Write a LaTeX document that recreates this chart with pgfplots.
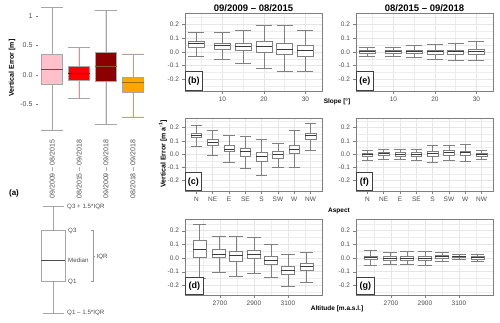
\documentclass[border=0pt]{standalone}
\usepackage{pgfplots}
\pgfplotsset{compat=1.18}
\usepgfplotslibrary{statistics}
\usepackage{fontspec}
\setmainfont{Liberation Sans}
\definecolor{cPink}{HTML}{FFC0CB}
\definecolor{cRed}{HTML}{FF0000}
\definecolor{cDark}{HTML}{8B0000}
\definecolor{cOrng}{HTML}{FFA500}
\definecolor{cFrame}{HTML}{7F7F7F}
\definecolor{cGrid}{HTML}{E6E6E6}
\definecolor{cTxt}{HTML}{4D4D4D}
\definecolor{cBox}{HTML}{808080}
\definecolor{cMed}{HTML}{3A3A3A}
\newcommand{\fs}[1]{\fontsize{#1}{#1}\selectfont}
\pgfplotsset{
  boxplot/draw direction=y,
  panel/.style={
    scale only axis, width=137pt, clip=false,
    axis line style={cFrame, line width=0.6pt},
    tick style={cFrame, line width=0.5pt},
    tick align=outside, major tick length=2.6pt, minor tick length=0pt,
    xtick pos=bottom, ytick pos=left,
    ytick={-0.2,-0.1,0,0.1,0.2}, yticklabels={-0.2,-0.1,0.0,0.1,0.2},
    minor ytick={-0.25,-0.15,-0.05,0.05,0.15,0.25},
    grid=both,
    major grid style={cGrid, line width=0.55pt},
    minor grid style={cGrid!70, line width=0.3pt},
    tick label style={font=\fs{6.5}, text=cTxt}},
  slope/.style={xmin=1, xmax=34, xtick={10,20,30}, xticklabels={10,20,30},
    minor xtick={5,15,25}, boxplot/box extend=3.9, boxplot/whisker extend=3.9},
  aspect/.style={xmin=0.3, xmax=8.7, xtick={1,2,3,4,5,6,7,8},
    xticklabels={N,NE,E,SE,S,SW,W,NW}, boxplot/box extend=0.64, boxplot/whisker extend=0.68},
  % altitude in hundreds of metres
  alti/.style={xmin=24.95, xmax=33.0, xtick={27,29,31}, xticklabels={2700,2900,3100},
    minor xtick={26,28,30,32}, boxplot/box extend=0.78, boxplot/whisker extend=0.78},
  bx/.style={draw=cBox, fill=white, line width=0.5pt, boxplot/draw direction=y,
    boxplot/every median/.style={draw=cMed, line width=0.7pt}},
  ba/.style={draw=black!35, line width=0.7pt, boxplot/draw direction=y},
}
\tikzset{plab/.style={draw=black!75, line width=0.6pt, fill=white, anchor=south west,
    font=\fs{9}\bfseries, inner sep=0.5pt, minimum width=17pt, minimum height=19pt}}
\begin{document}
\begin{tikzpicture}
\useasboundingbox (0pt,0pt) rectangle (500pt,323pt);

% (a) overall vertical error
\begin{axis}[at={(38.5pt,189pt)}, anchor=south west, scale only axis,
  width=108pt, height=129.8pt, xmin=0.5, xmax=4.5, ymin=-1, ymax=1.2,
  axis lines*=left, axis line style={draw=none},
  xtick={1,2,3,4},
  xticklabels={09/2009 -- 08/2015,08/2015 -- 09/2018,09/2009 -- 09/2018,08/2018 -- 09/2018},
  xtick style={draw=none}, xticklabel style={rotate=90, anchor=east, font=\fs{7}, text=cTxt},
  ytick={-0.5,0,0.5,1}, yticklabels={-0.5,0.0,0.5,1},
  ytick style={cFrame, line width=0.5pt}, tick align=outside, major tick length=2.5pt,
  yticklabel style={font=\fs{7}, text=cTxt},
  boxplot/box extend=0.78, boxplot/whisker extend=0.78]
\addplot[ba, fill=cPink, boxplot/every median/.style={draw=black!60!cPink, line width=0.8pt},
  boxplot prepared={draw position=1, lower whisker=-0.93, lower quartile=-0.164, median=0.096, upper quartile=0.356, upper whisker=1.147}] coordinates {};
\addplot[ba, fill=cRed, boxplot/every median/.style={draw=black!40!cRed, line width=0.8pt},
  boxplot prepared={draw position=2, lower whisker=-0.40, lower quartile=-0.085, median=0.034, upper quartile=0.141, upper whisker=0.463}] coordinates {};
\addplot[ba, fill=cDark, boxplot/every median/.style={draw=brown!70!black, line width=0.8pt},
  boxplot prepared={draw position=3, lower whisker=-0.84, lower quartile=-0.10, median=0.141, upper quartile=0.379, upper whisker=1.09}] coordinates {};
\addplot[ba, fill=cOrng, boxplot/every median/.style={draw=black!35!cOrng, line width=0.8pt},
  boxplot prepared={draw position=4, lower whisker=-0.71, lower quartile=-0.288, median=-0.124, upper quartile=-0.034, upper whisker=0.356}] coordinates {};
\end{axis}
\node[rotate=90, font=\fs{7}\bfseries] at (12pt,255pt) {Vertical Error [m]};
\node[font=\fs{8}\bfseries] at (14pt,130pt) {(a)};

% (a) schematic box plot
\begin{axis}[at={(0pt,3pt)}, anchor=south west, scale only axis, width=150pt, height=120pt,
  xmin=0, xmax=150, ymin=-320, ymax=-200, hide axis, clip=false,
  boxplot/box extend=24, boxplot/whisker extend=21]
\addplot[ba, fill=white, boxplot/every median/.style={draw=black!70, line width=0.8pt},
  boxplot prepared={draw position=53, lower whisker=-313, lower quartile=-281.7, median=-260, upper quartile=-230.7, upper whisker=-206.7}] coordinates {};
\begin{scope}[every node/.style={font=\fs{6.2}, text=cTxt, anchor=west, inner sep=1pt}]
\node at (axis cs:66,-206.7) {Q3 + 1.5*IQR};
\node at (axis cs:67,-230.7) {Q3};
\node at (axis cs:67,-260) {Median};
\node at (axis cs:67,-281.7) {Q1};
\node at (axis cs:66,-313) {Q1 -- 1.5*IQR};
\node at (axis cs:95.5,-256.7) {IQR};
\end{scope}
\draw[black!40, line width=0.5pt] (axis cs:91,-230.7) -- (axis cs:93,-230.7) -- (axis cs:93,-281.7) -- (axis cs:91,-281.7)
  (axis cs:93,-256.7) -- (axis cs:95,-256.7);
\end{axis}

% column titles and axis names
\node[font=\fs{9.5}\bfseries] at (253.5pt,315pt) {09/2009 -- 08/2015};
\node[font=\fs{9.5}\bfseries] at (424.5pt,315pt) {08/2015 -- 09/2018};
\node[font=\fs{6.5}\bfseries] at (337pt,221pt) {Slope [°]};
\node[font=\fs{6.5}\bfseries] at (339pt,112pt) {Aspect};
\node[font=\fs{6.5}\bfseries] at (337pt,14pt) {Altitude [m.a.s.l.]};
\node[rotate=90, font=\fs{7}\bfseries] at (163pt,169pt) {Vertical Error [m a\textsuperscript{-1}]};

% (b) slope, 2009-2015
\begin{axis}[panel, slope, at={(185pt,232pt)}, anchor=south west, height=78pt, ymin=-0.285, ymax=0.282]
\addplot[bx, boxplot prepared={draw position=3.7, lower whisker=-0.036, lower quartile=0.036, median=0.06, upper quartile=0.08, upper whisker=0.14}] coordinates {};
\addplot[bx, boxplot prepared={draw position=10, lower whisker=-0.056, lower quartile=0.02, median=0.048, upper quartile=0.065, upper whisker=0.14}] coordinates {};
\addplot[bx, boxplot prepared={draw position=15, lower whisker=-0.08, lower quartile=0.012, median=0.04, upper quartile=0.065, upper whisker=0.157}] coordinates {};
\addplot[bx, boxplot prepared={draw position=20, lower whisker=-0.12, lower quartile=0.0, median=0.04, upper quartile=0.075, upper whisker=0.194}] coordinates {};
\addplot[bx, boxplot prepared={draw position=25, lower whisker=-0.14, lower quartile=-0.017, median=0.017, upper quartile=0.065, upper whisker=0.194}] coordinates {};
\addplot[bx, boxplot prepared={draw position=30, lower whisker=-0.14, lower quartile=-0.03, median=0.007, upper quartile=0.044, upper whisker=0.157}] coordinates {};
\node[plab] at (rel axis cs:0,0) {(b)};
\end{axis}

% (e) slope, 2015-2018
\begin{axis}[panel, slope, at={(356pt,232pt)}, anchor=south west, height=78pt, ymin=-0.285, ymax=0.282]
\addplot[bx, boxplot prepared={draw position=3.7, lower whisker=-0.03, lower quartile=-0.012, median=0.0, upper quartile=0.012, upper whisker=0.03}] coordinates {};
\addplot[bx, boxplot prepared={draw position=10, lower whisker=-0.03, lower quartile=-0.012, median=0.0, upper quartile=0.014, upper whisker=0.036}] coordinates {};
\addplot[bx, boxplot prepared={draw position=15, lower whisker=-0.04, lower quartile=-0.014, median=0.0, upper quartile=0.014, upper whisker=0.045}] coordinates {};
\addplot[bx, boxplot prepared={draw position=20, lower whisker=-0.055, lower quartile=-0.017, median=0.0, upper quartile=0.014, upper whisker=0.053}] coordinates {};
\addplot[bx, boxplot prepared={draw position=25, lower whisker=-0.06, lower quartile=-0.017, median=0.0, upper quartile=0.014, upper whisker=0.06}] coordinates {};
\addplot[bx, boxplot prepared={draw position=30, lower whisker=-0.06, lower quartile=-0.015, median=0.0, upper quartile=0.017, upper whisker=0.073}] coordinates {};
\node[plab] at (rel axis cs:0,0) {(e)};
\end{axis}

% (c) aspect, 2009-2015
\begin{axis}[panel, aspect, at={(185pt,132pt)}, anchor=south west, height=73pt, ymin=-0.278, ymax=0.273]
\addplot[bx, boxplot prepared={draw position=1, lower whisker=0.06, lower quartile=0.125, median=0.14, upper quartile=0.16, upper whisker=0.22}] coordinates {};
\addplot[bx, boxplot prepared={draw position=2, lower whisker=-0.01, lower quartile=0.065, median=0.09, upper quartile=0.11, upper whisker=0.18}] coordinates {};
\addplot[bx, boxplot prepared={draw position=3, lower whisker=-0.06, lower quartile=0.02, median=0.04, upper quartile=0.07, upper whisker=0.145}] coordinates {};
\addplot[bx, boxplot prepared={draw position=4, lower whisker=-0.105, lower quartile=-0.015, median=0.022, upper quartile=0.045, upper whisker=0.135}] coordinates {};
\addplot[bx, boxplot prepared={draw position=5, lower whisker=-0.16, lower quartile=-0.053, median=-0.015, upper quartile=0.015, upper whisker=0.115}] coordinates {};
\addplot[bx, boxplot prepared={draw position=6, lower whisker=-0.10, lower quartile=-0.03, median=-0.005, upper quartile=0.02, upper whisker=0.085}] coordinates {};
\addplot[bx, boxplot prepared={draw position=7, lower whisker=-0.10, lower quartile=0.008, median=0.04, upper quartile=0.07, upper whisker=0.18}] coordinates {};
\addplot[bx, boxplot prepared={draw position=8, lower whisker=0.033, lower quartile=0.11, median=0.14, upper quartile=0.16, upper whisker=0.235}] coordinates {};
\node[plab, minimum height=18pt, minimum width=16pt] at (rel axis cs:0,0) {(c)};
\end{axis}

% (f) aspect, 2015-2018
\begin{axis}[panel, aspect, at={(356pt,132pt)}, anchor=south west, height=73pt, ymin=-0.278, ymax=0.273]
\addplot[bx, boxplot prepared={draw position=1, lower whisker=-0.048, lower quartile=-0.018, median=-0.005, upper quartile=0.008, upper whisker=0.033}] coordinates {};
\addplot[bx, boxplot prepared={draw position=2, lower whisker=-0.04, lower quartile=-0.01, median=0.003, upper quartile=0.015, upper whisker=0.04}] coordinates {};
\addplot[bx, boxplot prepared={draw position=3, lower whisker=-0.038, lower quartile=-0.013, median=0.0, upper quartile=0.013, upper whisker=0.035}] coordinates {};
\addplot[bx, boxplot prepared={draw position=4, lower whisker=-0.048, lower quartile=-0.015, median=0.0, upper quartile=0.013, upper whisker=0.04}] coordinates {};
\addplot[bx, boxplot prepared={draw position=5, lower whisker=-0.06, lower quartile=-0.015, median=0.003, upper quartile=0.02, upper whisker=0.065}] coordinates {};
\addplot[bx, boxplot prepared={draw position=6, lower whisker=-0.043, lower quartile=-0.005, median=0.01, upper quartile=0.028, upper whisker=0.065}] coordinates {};
\addplot[bx, boxplot prepared={draw position=7, lower whisker=-0.053, lower quartile=-0.008, median=0.01, upper quartile=0.025, upper whisker=0.078}] coordinates {};
\addplot[bx, boxplot prepared={draw position=8, lower whisker=-0.04, lower quartile=-0.015, median=-0.003, upper quartile=0.01, upper whisker=0.033}] coordinates {};
\node[plab, minimum height=18pt, minimum width=16pt] at (rel axis cs:0,0) {(f)};
\end{axis}

% (d) altitude, 2009-2015
\begin{axis}[panel, alti, at={(185pt,28pt)}, anchor=south west, height=76pt, ymin=-0.27, ymax=0.286]
\addplot[bx, boxplot prepared={draw position=25.80, lower whisker=-0.15, lower quartile=0.005, median=0.066, upper quartile=0.13, upper whisker=0.248}] coordinates {};
\addplot[bx, boxplot prepared={draw position=26.95, lower whisker=-0.10, lower quartile=0.005, median=0.03, upper quartile=0.066, upper whisker=0.157}] coordinates {};
\addplot[bx, boxplot prepared={draw position=27.95, lower whisker=-0.133, lower quartile=-0.022, median=0.022, upper quartile=0.05, upper whisker=0.162}] coordinates {};
\addplot[bx, boxplot prepared={draw position=29.00, lower whisker=-0.113, lower quartile=-0.002, median=0.027, upper quartile=0.054, upper whisker=0.15}] coordinates {};
\addplot[bx, boxplot prepared={draw position=30.00, lower whisker=-0.137, lower quartile=-0.047, median=-0.015, upper quartile=0.015, upper whisker=0.10}] coordinates {};
\addplot[bx, boxplot prepared={draw position=31.00, lower whisker=-0.206, lower quartile=-0.118, median=-0.088, upper quartile=-0.06, upper whisker=0.03}] coordinates {};
\addplot[bx, boxplot prepared={draw position=32.10, lower whisker=-0.174, lower quartile=-0.088, median=-0.06, upper quartile=-0.04, upper whisker=0.042}] coordinates {};
\node[plab, minimum height=17pt, minimum width=18pt] at (rel axis cs:0,0) {(d)};
\end{axis}

% (g) altitude, 2015-2018
\begin{axis}[panel, alti, at={(356pt,28pt)}, anchor=south west, height=76pt, ymin=-0.27, ymax=0.286]
\addplot[bx, boxplot prepared={draw position=25.80, lower whisker=-0.056, lower quartile=-0.01, median=0.002, upper quartile=0.015, upper whisker=0.059}] coordinates {};
\addplot[bx, boxplot prepared={draw position=26.95, lower whisker=-0.047, lower quartile=-0.015, median=-0.002, upper quartile=0.01, upper whisker=0.042}] coordinates {};
\addplot[bx, boxplot prepared={draw position=27.95, lower whisker=-0.047, lower quartile=-0.015, median=0.0, upper quartile=0.012, upper whisker=0.047}] coordinates {};
\addplot[bx, boxplot prepared={draw position=29.00, lower whisker=-0.056, lower quartile=-0.015, median=0.0, upper quartile=0.015, upper whisker=0.052}] coordinates {};
\addplot[bx, boxplot prepared={draw position=30.00, lower whisker=-0.022, lower quartile=-0.002, median=0.01, upper quartile=0.02, upper whisker=0.04}] coordinates {};
\addplot[bx, boxplot prepared={draw position=31.00, lower whisker=-0.01, lower quartile=0.005, median=0.012, upper quartile=0.017, upper whisker=0.03}] coordinates {};
\addplot[bx, boxplot prepared={draw position=32.10, lower whisker=-0.02, lower quartile=-0.005, median=0.005, upper quartile=0.015, upper whisker=0.03}] coordinates {};
\node[plab, minimum height=17pt, minimum width=18pt] at (rel axis cs:0,0) {(g)};
\end{axis}
\end{tikzpicture}
\end{document}
